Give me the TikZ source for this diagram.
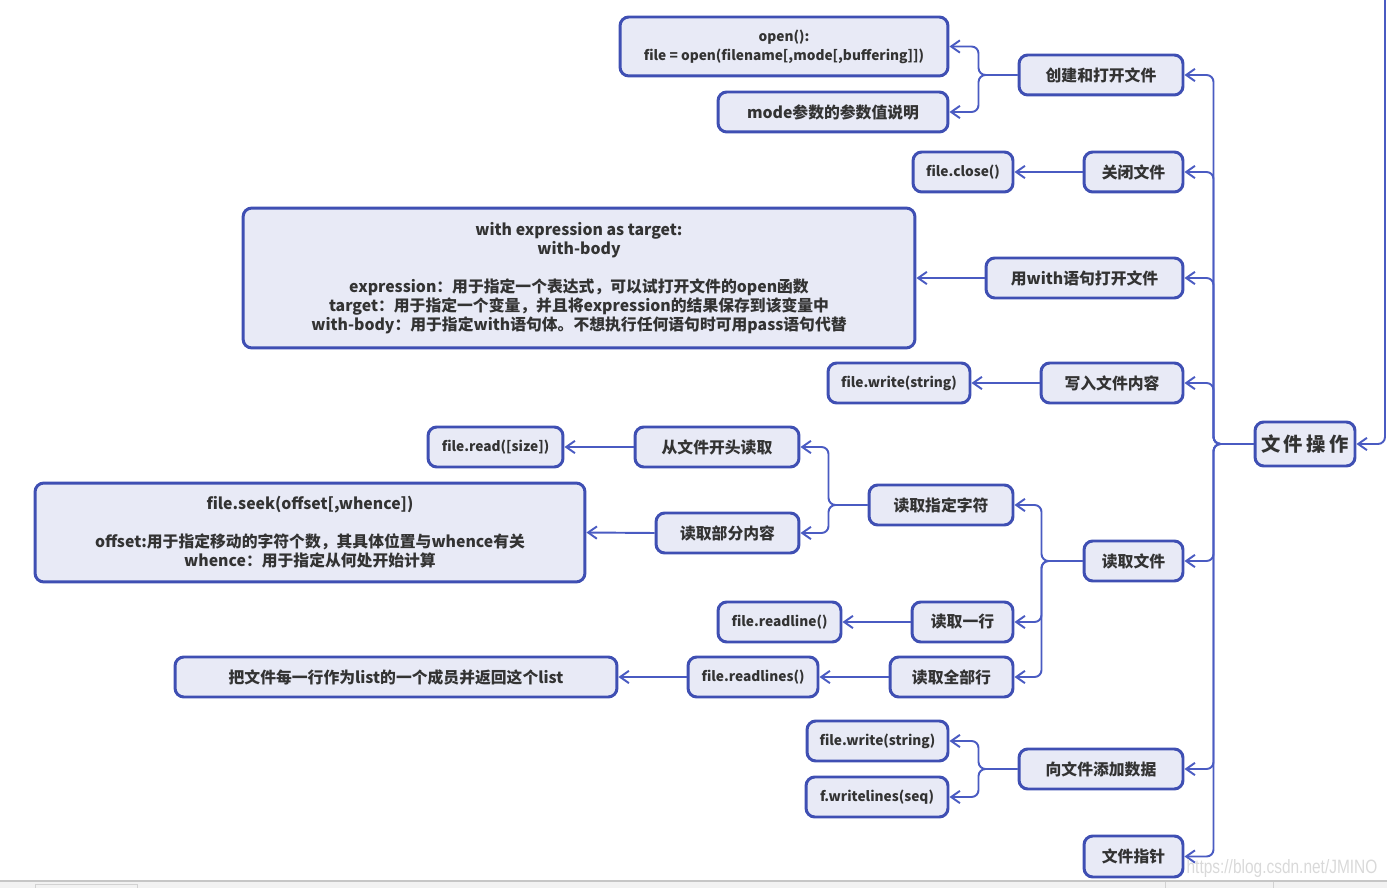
\documentclass[tikz,border=0pt]{standalone}
\usepackage{fontspec}
\setmainfont{Noto Sans CJK SC}
\newfontfamily\wmfont{Liberation Sans}
\usetikzlibrary{arrows.meta}
\definecolor{edgeblue}{HTML}{4A5BC2}
\definecolor{boxblue}{HTML}{3F4FB3}
\definecolor{boxfill}{HTML}{E8EAF6}
\definecolor{txtgray}{HTML}{333333}
\def\sz{\fontsize{9pt}{10.8pt}\selectfont}

\begin{document}
\begin{tikzpicture}[x=0.02cm,y=-0.02cm,
  box/.style={draw=boxblue,fill=boxfill,line width=1.7pt,rounded corners=5pt,
    minimum height=0.8cm,inner sep=0pt,align=center,text=txtgray,font=\sz\bfseries},
  code/.style={box,font=\fontsize{7.8pt}{10.8pt}\selectfont\bfseries},
  link/.style={draw=edgeblue,line width=1.1pt,rounded corners=4pt,
    -{Straight Barb[length=5pt,width=7pt]}}]
\useasboundingbox (0,0) rectangle (1387,888);
\draw(1305,444) node[box,minimum width=2cm,minimum height=0.88cm,font=\fontsize{11pt}{13pt}\selectfont\bfseries] (root) {文\kern2pt 件\kern2pt 操\kern2pt 作};
\draw(1101,75) node[box,minimum width=3.28cm] (create) {创建和打开文件};
\draw(1133.5,172) node[box,minimum width=1.98cm] (close) {关闭文件};
\draw(1084.5,278) node[box,minimum width=3.94cm] (with) {用with语句打开文件};
\draw(1112,383) node[box,minimum width=2.84cm] (write) {写入文件内容};
\draw(1133.5,561) node[box,minimum width=1.98cm] (read) {读取文件};
\draw(1101,769) node[box,minimum width=3.28cm] (append) {向文件添加数据};
\draw(1133.5,856.5) node[box,minimum width=1.98cm,minimum height=0.82cm] (pointer) {文件指针};
\draw(784,46.5) node[code,minimum width=6.56cm,minimum height=1.18cm] (open) {open():\\file = open(filename[,mode[,buffering]])};
\draw(833,112) node[box,minimum width=4.6cm] (mode) {mode参数的参数值说明};
\draw(963,172) node[code,minimum width=2cm] (closef) {file.close()};
\draw(579,278) node[box,minimum width=13.44cm,minimum height=2.8cm] (withf) {with expression as target:\\with-body\\[0.38cm]expression：用于指定一个表达式，可以试打开文件的open函数\\target：用于指定一个变量，并且将expression的结果保存到该变量中\\with-body：用于指定with语句体。不想执行任何语句时可用pass语句代替};
\draw(899,383) node[code,minimum width=2.84cm] (writef) {file.write(string)};
\draw(941,505) node[box,minimum width=2.88cm] (chars) {读取指定字符};
\draw(962.5,622) node[box,minimum width=2.02cm] (line) {读取一行};
\draw(951.5,677) node[box,minimum width=2.46cm] (lines) {读取全部行};
\draw(717,447) node[box,minimum width=3.28cm] (head) {从文件开头读取};
\draw(727.5,533) node[box,minimum width=2.86cm] (part) {读取部分内容};
\draw(495.5,447) node[code,minimum width=2.7cm] (readf) {file.read([size])};
\draw(310,532.5) node[box,minimum width=11cm,minimum height=1.98cm] (seekf) {file.seek(offset[,whence])\\[0.38cm]offset:用于指定移动的字符个数，其具体位置与whence有关\\whence：用于指定从何处开始计算};
\draw(779.5,622) node[code,minimum width=2.46cm] (linef) {file.readline()};
\draw(753,677) node[code,minimum width=2.6cm] (linesf) {file.readlines()};
\draw(396,677) node[box,minimum width=8.84cm] (listf) {把文件每一行作为list的一个成员并返回这个list};
\draw(877.5,741) node[code,minimum width=2.82cm] (appendf) {file.write(string)};
\draw(877,797) node[code,minimum width=2.84cm] (seqf) {f.writelines(seq)};
\coordinate (top) at (1385,0);
\draw[link] (top) |- (root.east);
\foreach \n in {create,close,with,write,read,append,pointer}
  \draw[link] (root.west) -- ++(-40,0) |- (\n.east);
\draw[link] (create.west) -- ++(-39,0) |- (open.east);
\draw[link] (create.west) -- ++(-39,0) |- (mode.east);
\draw[link] (close.west) -- (closef.east);
\draw[link] (with.west) -- (withf.east);
\draw[link] (write.west) -- (writef.east);
\draw[link] (read.west) -- ++(-41,0) |- (chars.east);
\draw[link] (read.west) -- ++(-41,0) |- (line.east);
\draw[link] (read.west) -- ++(-41,0) |- (lines.east);
\draw[link] (chars.west) -- ++(-39,0) |- (head.east);
\draw[link] (chars.west) -- ++(-39,0) |- (part.east);
\draw[link] (head.west) -- (readf.east);
\draw[link] (part.west) -- (seekf.east);
\draw[link] (line.west) -- (linef.east);
\draw[link] (lines.west) -- (linesf.east);
\draw[link] (linesf.west) -- (listf.east);
\draw[link] (append.west) -- ++(-39,0) |- (appendf.east);
\draw[link] (append.west) -- ++(-39,0) |- (seqf.east);
\fill[gray!10] (0,881) rectangle (1387,888);
\draw[gray!45,line width=0.6pt] (0,881) -- (1387,881);
\draw[gray!35] (35,884) rectangle (137,888);
\draw[gray!35] (1165,882) -- (1165,888) (1273,882) -- (1273,888);
\draw(1282,869) node[text=gray!30,font=\wmfont\fontsize{11pt}{11pt}\selectfont] (mark) {\scalebox{0.8}[1]{https://blog.csdn.net/JMINO}};
\end{tikzpicture}
\end{document}
